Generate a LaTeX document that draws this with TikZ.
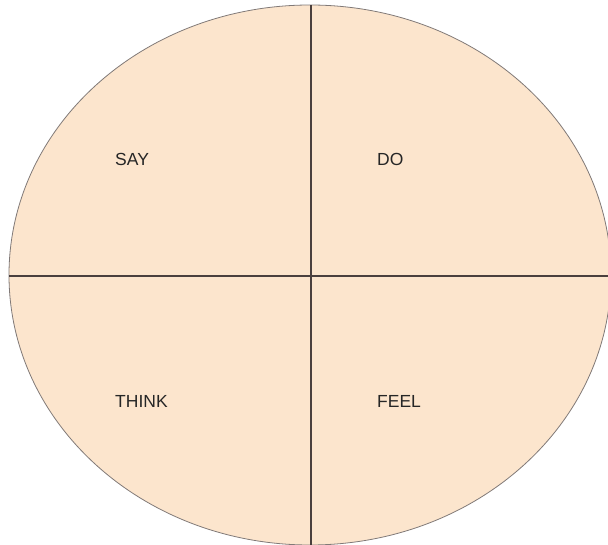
\documentclass[tikz,border=0pt]{standalone}
\usepackage{fontspec}
\setmainfont{Liberation Sans}
\usetikzlibrary{positioning}
\definecolor{peach}{HTML}{FCE5CD}
\definecolor{edge}{HTML}{4A3F3D}

\begin{document}
\begin{tikzpicture}[x=1pt, y=-1pt,
    quad/.style={anchor=west, inner sep=0pt, font=\fontsize{17.5}{20}\selectfont, text=black!85}]
  \useasboundingbox (0,0) rectangle (608,545);

  \coordinate (C) at (310,275);
  \fill[peach] (C) ellipse [x radius=301, y radius=270];
  \draw[edge!70, line width=0.8pt] (C) ellipse [x radius=301, y radius=270];

  % axes of the map
  \coordinate (top) at (311,5);
  \coordinate (bottom) at (311,545);
  \coordinate (left) at (9,276);
  \coordinate (right) at (608,276);
  \draw[edge, line width=1.2pt] (top) -- (bottom);
  \draw[edge, line width=1.2pt] (left) -- (right);

  \node[quad] (say) at (115,159) {SAY};
  \node[quad] (do) at (377,159) {DO};
  \node[quad] (think) at (115,401) {THINK};
  \node[quad] (feel) at (377,401) {FEEL};
\end{tikzpicture}
\end{document}
